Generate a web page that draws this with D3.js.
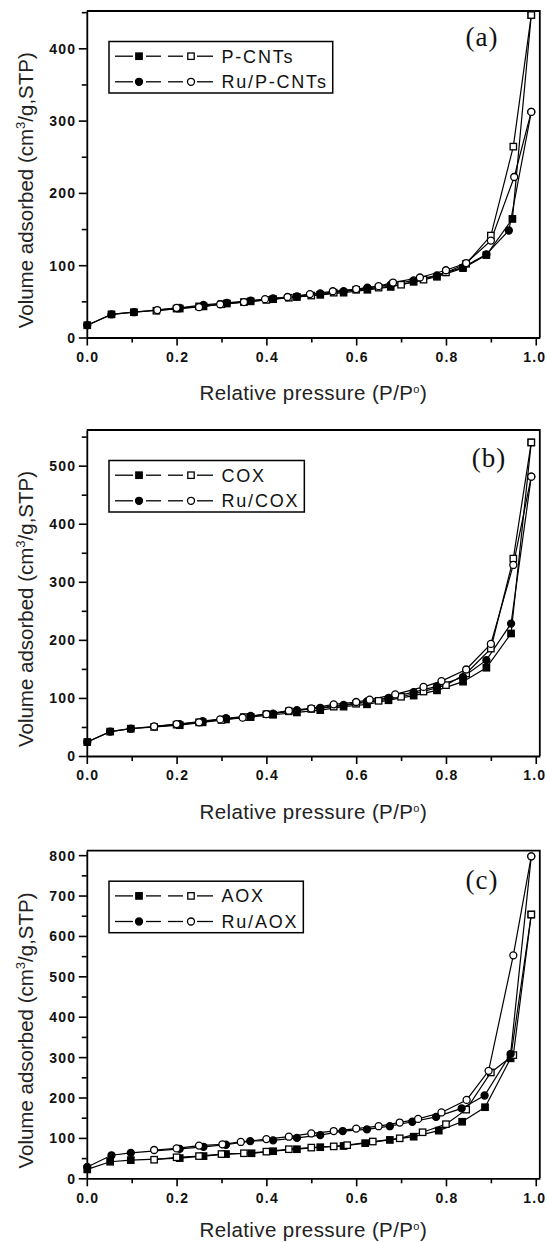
<!DOCTYPE html>
<html><head><meta charset="utf-8">
<script src="https://cdn.jsdelivr.net/npm/d3@7"></script>
<style>body{margin:0;background:#fff}svg{display:block}</style>
</head><body>
<svg id="chart" width="547" height="1242"></svg>
<script>
// ---------- DATA ----------
// Panel (a)
const pcntsAdsP = [0.001,0.055,0.105,0.207,0.26,0.312,0.365,0.415,0.468,0.52,0.572,0.625,0.677,0.728,0.78,0.838,0.89,0.948,0.99];
const pcntsAdsV = [17,32,35,40,43,47,50,53,56,59,62,66,70,77,84,96,114,164,446];
const pcntsDesP = [0.99,0.95,0.90,0.845,0.80,0.75,0.70,0.65,0.60,0.55,0.50,0.45,0.40,0.35,0.30,0.25,0.20,0.155];
const pcntsDesV = [446,264,141,102,90,80,73,69,66,62,58,55,52,49,46,43,40,37];
const ruPcntsAdsP = [0.001,0.055,0.105,0.207,0.26,0.312,0.365,0.415,0.468,0.52,0.572,0.625,0.677,0.728,0.78,0.838,0.89,0.94,0.99];
const ruPcntsAdsV = [17,32,35,41,45,48,51,54,57,61,64,69,73,79,86,97,115,148,312];
const ruPcntsDesP = [0.99,0.952,0.90,0.845,0.80,0.742,0.682,0.65,0.60,0.548,0.497,0.447,0.397,0.35,0.297,0.25,0.20,0.157];
const ruPcntsDesV = [312,222,134,103,93,83,76,71,67,64,60,56,53,49,46,42,41,38];
// Panel (b)
const coxAdsP = [0.001,0.052,0.098,0.207,0.258,0.31,0.365,0.415,0.468,0.52,0.572,0.624,0.672,0.728,0.78,0.838,0.89,0.945,0.99];
const coxAdsV = [24,42,47,53,58,63,67,71,75,79,85,89,96,104,113,128,152,211,540];
const coxDesP = [0.99,0.95,0.90,0.845,0.80,0.75,0.70,0.65,0.60,0.55,0.50,0.45,0.40,0.35,0.30,0.25,0.20,0.15];
const coxDesV = [540,340,185,142,122,111,102,95,90,85,81,77,72,67,62,58,54,50];
const ruCoxAdsP = [0.001,0.052,0.098,0.207,0.258,0.31,0.365,0.415,0.468,0.52,0.572,0.624,0.672,0.728,0.78,0.838,0.89,0.945,0.99];
const ruCoxAdsV = [24,42,47,55,60,65,69,73,79,83,88,94,100,110,120,136,165,228,481];
const ruCoxDesP = [0.99,0.95,0.90,0.845,0.79,0.75,0.687,0.63,0.60,0.55,0.50,0.45,0.40,0.347,0.297,0.25,0.20,0.15];
const ruCoxDesV = [481,329,193,149,129,119,106,97,93,89,82,78,72,66,63,58,55,51];
// Panel (c)
const aoxAdsP = [0.001,0.052,0.098,0.207,0.26,0.31,0.367,0.415,0.468,0.52,0.572,0.62,0.675,0.728,0.784,0.836,0.887,0.944,0.99];
const aoxAdsV = [22,41,45,50,55,60,62,67,72,77,80,87,95,103,118,140,176,297,653];
const aoxDesP = [0.99,0.95,0.90,0.845,0.80,0.748,0.697,0.637,0.58,0.55,0.50,0.45,0.40,0.35,0.30,0.25,0.20,0.15];
const aoxDesV = [653,305,262,170,134,114,99,91,82,79,76,72,66,62,60,55,52,46];
const ruAoxAdsP = [0.001,0.055,0.098,0.207,0.26,0.31,0.364,0.415,0.468,0.52,0.57,0.624,0.675,0.725,0.778,0.835,0.886,0.944,0.99];
const ruAoxAdsV = [28,57,63,73,78,83,92,94,100,107,117,121,129,140,152,173,205,308,797];
const ruAoxDesP = [0.99,0.95,0.895,0.846,0.79,0.738,0.697,0.65,0.60,0.55,0.50,0.45,0.40,0.343,0.302,0.25,0.20,0.15];
const ruAoxDesV = [797,552,266,194,163,147,138,129,123,117,111,103,97,90,84,81,74,70];

// Ticks & labels
const xTicks = [0, 0.2, 0.4, 0.6, 0.8, 1.0];
const xMinorTicks = [0.1, 0.3, 0.5, 0.7, 0.9];
const yTicksA = [0, 100, 200, 300, 400];
const yTicksB = [0, 100, 200, 300, 400, 500];
const yTicksC = [0, 100, 200, 300, 400, 500, 600, 700, 800];
const legendA = ["P-CNTs", "Ru/P-CNTs"];
const legendB = ["COX", "Ru/COX"];
const legendC = ["AOX", "Ru/AOX"];
const panelLabels = ["(a)", "(b)", "(c)"];
const xTitle = "Relative pressure (P/P";
const yTitle = "Volume adsorbed (cm";

// ---------- BUILD ----------
const zip = (p, v) => p.map((d, i) => [d, v[i]]);
const panels = [
  { top: 11, bottom: 337.5, yMax: 451.6, yTicks: yTicksA, legend: legendA, label: panelLabels[0], labelX: 482, labelY: 46, titleOff: 55.5,
    series: [[zip(pcntsAdsP, pcntsAdsV), "square", true], [zip(pcntsDesP, pcntsDesV), "square", false],
             [zip(ruPcntsAdsP, ruPcntsAdsV), "circle", true], [zip(ruPcntsDesP, ruPcntsDesV), "circle", false]] },
  { top: 430, bottom: 756, yMax: 561.4, yTicks: yTicksB, legend: legendB, label: panelLabels[1], labelX: 489, labelY: 467, titleOff: 56,
    series: [[zip(coxAdsP, coxAdsV), "square", true], [zip(coxDesP, coxDesV), "square", false],
             [zip(ruCoxAdsP, ruCoxAdsV), "circle", true], [zip(ruCoxDesP, ruCoxDesV), "circle", false]] },
  { top: 850.7, bottom: 1178.3, yMax: 811, yTicks: yTicksC, legend: legendC, label: panelLabels[2], labelX: 482, labelY: 889, titleOff: 51,
    series: [[zip(aoxAdsP, aoxAdsV), "square", true], [zip(aoxDesP, aoxDesV), "square", false],
             [zip(ruAoxAdsP, ruAoxAdsV), "circle", true], [zip(ruAoxDesP, ruAoxDesV), "circle", false]] }
];

const svg = d3.select("#chart");
const LEFT = 86.8, RIGHT = 539.8;
const sans = "'Liberation Sans', Arial, Helvetica, sans-serif";
const serif = "'Liberation Serif', 'Times New Roman', serif";

function marker(g, shape, filled, cx, cy) {
  const s = 6.4;
  let m;
  if (shape === "square") {
    m = g.append("rect").attr("x", cx - s / 2).attr("y", cy - s / 2).attr("width", s).attr("height", s);
  } else {
    m = g.append("circle").attr("cx", cx).attr("cy", cy).attr("r", s / 2 + 0.3);
  }
  m.attr("fill", filled ? "#000" : "#fff").attr("stroke", "#000").attr("stroke-width", 1.3);
}

panels.forEach(p => {
  const x = d3.scaleLinear().domain([0, 1.009]).range([LEFT, RIGHT]);
  const y = d3.scaleLinear().domain([0, p.yMax]).range([p.bottom, p.top]);
  const g = svg.append("g");

  // frame top & right
  g.append("path").attr("d", `M${LEFT},${p.top}H${RIGHT}V${p.bottom}`)
    .attr("fill", "none").attr("stroke", "#000").attr("stroke-width", 1.8);

  // minor ticks
  const yMinor = d3.range(50, p.yMax, 100);
  g.append("g").attr("transform", `translate(0,${p.bottom})`)
    .call(d3.axisBottom(x).tickValues(xMinorTicks).tickSize(5).tickSizeOuter(0).tickFormat(""))
    .call(a => a.select(".domain").remove());
  g.append("g").attr("transform", `translate(${LEFT},0)`)
    .call(d3.axisLeft(y).tickValues(yMinor).tickSize(5).tickSizeOuter(0).tickFormat(""))
    .call(a => a.select(".domain").remove());

  // major x axis
  const xa = g.append("g").attr("transform", `translate(0,${p.bottom})`)
    .call(d3.axisBottom(x).tickValues(xTicks).tickSize(8).tickSizeOuter(0).tickFormat(d3.format(".1f")));
  xa.selectAll("text").attr("y", 19.5).attr("dy", "0.35em").attr("dx", "0.5px");
  xa.selectAll(".tick").filter(d => d === 1).select("text").attr("dx", "-1.5px");
  // major y axis
  const ya = g.append("g").attr("transform", `translate(${LEFT},0)`)
    .call(d3.axisLeft(y).tickValues(p.yTicks).tickSize(8).tickSizeOuter(0).tickPadding(2.5).tickFormat(d3.format("d")));
  ya.selectAll("text").attr("dy", "0.35em");

  g.selectAll(".tick line").attr("stroke", "#000").attr("stroke-width", 1.6);
  g.selectAll(".domain").attr("stroke", "#000").attr("stroke-width", 1.8);
  g.selectAll(".tick text").attr("fill", "#111").style("font-family", sans).style("font-size", "14px")
    .style("font-weight", "bold").style("letter-spacing", "1.2px");

  // lines
  const line = d3.line().x(d => x(d[0])).y(d => y(d[1]));
  p.series.forEach(s => {
    g.append("path").attr("d", line(s[0])).attr("fill", "none").attr("stroke", "#000").attr("stroke-width", 1.2);
  });
  p.series.forEach(s => {
    s[0].forEach(d => marker(g, s[1], s[2], x(d[0]), y(d[1])));
  });

  // legend
  const bx = 109, by = p.top + 30.5, rows = [by + 14.7, by + 40.3];
  const lg = g.append("g");
  const box = lg.append("rect").attr("x", bx).attr("y", by).attr("height", 51.5)
    .attr("fill", "#fff").attr("stroke", "#000").attr("stroke-width", 1.5);
  let maxEnd = 0;
  p.legend.forEach((name, i) => {
    const ry = rows[i];
    const shape = i === 0 ? "square" : "circle";
    [[115, 133], [146, 161], [168, 183], [197, 213]].forEach(seg =>
      lg.append("line").attr("x1", seg[0]).attr("x2", seg[1]).attr("y1", ry).attr("y2", ry)
        .attr("stroke", "#000").attr("stroke-width", 1.3));
    marker(lg, shape, true, 139, ry);
    marker(lg, shape, false, 191, ry);
    const t = lg.append("text").attr("x", 221.5).attr("y", ry).attr("dy", "0.36em").text(name)
      .attr("fill", "#111").style("font-family", sans).style("font-size", "18px").style("letter-spacing", "1.8px");
    maxEnd = Math.max(maxEnd, 221.5 + t.node().getComputedTextLength());
  });
  box.attr("width", maxEnd + 5 - bx);

  // panel label
  g.append("text").attr("x", p.labelX).attr("y", p.labelY).attr("text-anchor", "middle").text(p.label)
    .attr("fill", "#111").style("font-family", serif).style("font-size", "27px").style("letter-spacing", "1px");

  // x title
  const xt = g.append("text").attr("x", (LEFT + RIGHT) / 2).attr("y", p.bottom + p.titleOff).attr("dy", "0.36em")
    .attr("text-anchor", "middle").attr("fill", "#222")
    .style("font-family", sans).style("font-size", "20.5px").style("letter-spacing", "0.4px");
  xt.append("tspan").text(xTitle);
  xt.append("tspan").text("o").attr("dy", "-7px").style("font-size", "11px");
  xt.append("tspan").text(")").attr("dy", "7px");

  // y title
  const cy = (p.top + p.bottom) / 2 + 16;
  const yt = g.append("text").attr("transform", `translate(26,${cy}) rotate(-90)`).attr("dy", "0.36em")
    .attr("text-anchor", "middle").attr("fill", "#222")
    .style("font-family", sans).style("font-size", "20.5px");
  yt.append("tspan").text(yTitle);
  yt.append("tspan").text("3").attr("dy", "-8px").style("font-size", "13px");
  yt.append("tspan").text("/g,STP)").attr("dy", "8px");
});
</script>
</body></html>
